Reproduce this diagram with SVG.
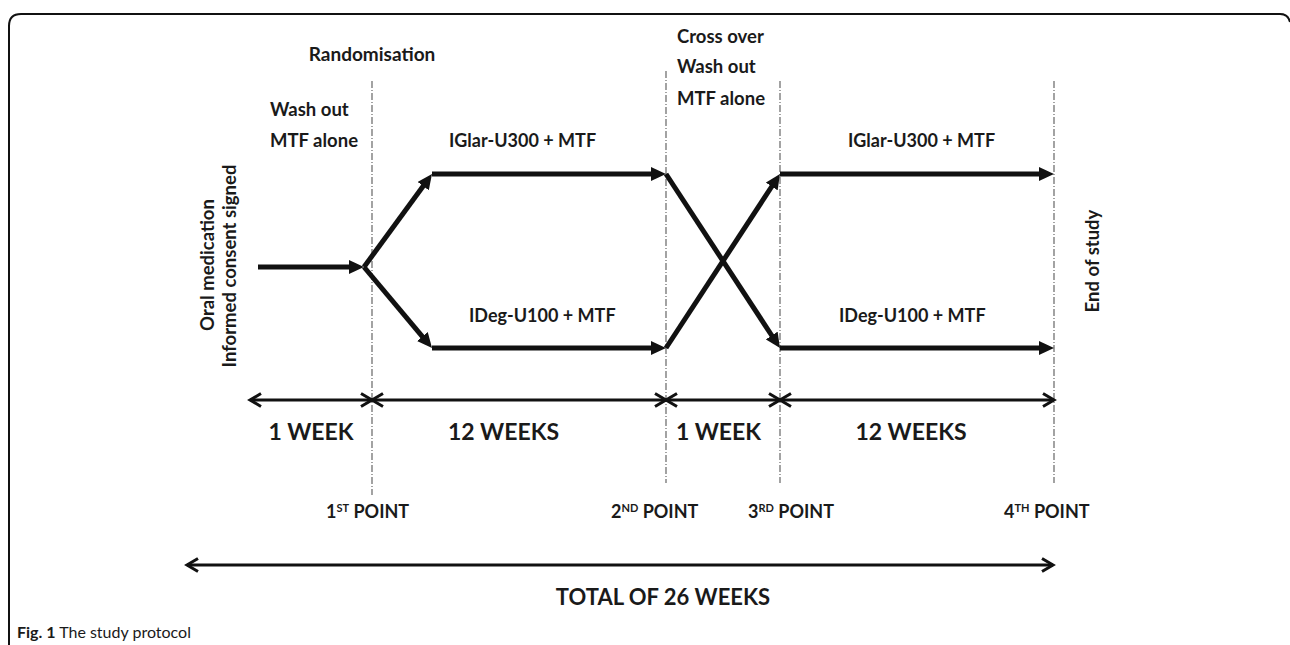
<svg xmlns="http://www.w3.org/2000/svg" width="1290" height="645" viewBox="0 0 1290 645">
<style>
.t{font-family:Lato,"Open Sans","Liberation Sans",sans-serif;font-weight:bold;fill:#1a1a1a}
.cap{font-family:Lato,"Open Sans","Liberation Sans",sans-serif;fill:#1a1a1a;font-size:16px}
.thick{stroke:#111;stroke-width:5;fill:none}
.dim{stroke:#111;stroke-width:3;fill:none}
.vl{stroke:#666;stroke-width:1.2;stroke-dasharray:7,2,1,2;fill:none}
</style>
<defs>
<marker id="ah" markerWidth="16" markerHeight="14" refX="3" refY="7" orient="auto" markerUnits="userSpaceOnUse">
<path d="M0,0 L15,7 L0,14 z" fill="#111"/>
</marker>
<marker id="ch" markerWidth="16" markerHeight="18" refX="13" refY="8" orient="auto-start-reverse" markerUnits="userSpaceOnUse">
<path d="M2,1.5 L13,8 L2,14.5" fill="none" stroke="#111" stroke-width="3"/>
</marker>
</defs>
<rect width="1290" height="645" fill="#fff"/>
<path d="M9,645 V26 Q9,14 21,14 H1280 Q1288,14 1290,22" fill="none" stroke="#111" stroke-width="2"/>

<g id="guides">
<line class="vl" x1="372" y1="81" x2="372" y2="495"/>
<line class="vl" x1="666" y1="71" x2="666" y2="483"/>
<line class="vl" x1="780" y1="81" x2="780" y2="483"/>
<line class="vl" x1="1054" y1="81" x2="1054" y2="483"/>
</g>

<g id="connectors">
<line class="thick" x1="258" y1="267" x2="352" y2="267" marker-end="url(#ah)"/>
<line class="thick" x1="364" y1="267" x2="424.9" y2="183.7" marker-end="url(#ah)"/>
<line class="thick" x1="364" y1="267" x2="424.3" y2="338.8" marker-end="url(#ah)"/>
<line class="thick" x1="432" y1="174" x2="654" y2="174" marker-end="url(#ah)"/>
<line class="thick" x1="432" y1="348" x2="654" y2="348" marker-end="url(#ah)"/>
<line class="thick" x1="666" y1="174" x2="773.4" y2="338" marker-end="url(#ah)"/>
<line class="thick" x1="666" y1="348" x2="773.4" y2="184" marker-end="url(#ah)"/>
<line class="thick" x1="780" y1="174" x2="1042" y2="174" marker-end="url(#ah)"/>
<line class="thick" x1="780" y1="348" x2="1042" y2="348" marker-end="url(#ah)"/>
<line class="dim" x1="250" y1="400" x2="372" y2="400" marker-start="url(#ch)" marker-end="url(#ch)"/>
<line class="dim" x1="372" y1="400" x2="666" y2="400" marker-start="url(#ch)" marker-end="url(#ch)"/>
<line class="dim" x1="666" y1="400" x2="780" y2="400" marker-start="url(#ch)" marker-end="url(#ch)"/>
<line class="dim" x1="780" y1="400" x2="1054" y2="400" marker-start="url(#ch)" marker-end="url(#ch)"/>
<line class="dim" x1="187" y1="565" x2="1053" y2="565" marker-start="url(#ch)" marker-end="url(#ch)"/>
</g>

<g id="start-label">
<text class="t" font-size="18.5" text-anchor="middle" transform="translate(214,265) rotate(-90)">Oral medication</text>
<text class="t" font-size="18.5" text-anchor="middle" transform="translate(236,266) rotate(-90)">Informed consent signed</text>
</g>
<g id="end-label">
<text class="t" font-size="18.5" text-anchor="middle" transform="translate(1099,261) rotate(-90)">End of study</text>
</g>
<g id="randomisation">
<text class="t" font-size="19" x="372" y="61" text-anchor="middle">Randomisation</text>
</g>
<g id="washout1">
<text class="t" font-size="18.5" x="270" y="116">Wash out</text>
<text class="t" font-size="18.5" x="270" y="147">MTF alone</text>
</g>
<g id="crossover">
<text class="t" font-size="18.5" x="677" y="43">Cross over</text>
<text class="t" font-size="18.5" x="677" y="73">Wash out</text>
<text class="t" font-size="18.5" x="677" y="105">MTF alone</text>
</g>
<g id="arm-labels">
<text class="t" font-size="18" x="449" y="147">IGlar-U300 + MTF</text>
<text class="t" font-size="18" x="848" y="147">IGlar-U300 + MTF</text>
<text class="t" font-size="18" x="469" y="322">IDeg-U100 + MTF</text>
<text class="t" font-size="18" x="839" y="322">IDeg-U100 + MTF</text>
</g>
<g id="durations">
<text class="t" font-size="23" x="311" y="440" text-anchor="middle">1 WEEK</text>
<text class="t" font-size="23" x="503.5" y="440" text-anchor="middle">12 WEEKS</text>
<text class="t" font-size="23" x="718.5" y="440" text-anchor="middle">1 WEEK</text>
<text class="t" font-size="23" x="911" y="440" text-anchor="middle">12 WEEKS</text>
</g>
<g id="points">
<text class="t" font-size="18" x="326" y="518">1<tspan font-size="11" dy="-6">ST</tspan><tspan dy="6"> POINT</tspan></text>
<text class="t" font-size="18" x="611" y="518">2<tspan font-size="11" dy="-6">ND</tspan><tspan dy="6"> POINT</tspan></text>
<text class="t" font-size="18" x="748" y="518">3<tspan font-size="11" dy="-6">RD</tspan><tspan dy="6"> POINT</tspan></text>
<text class="t" font-size="18" x="1004" y="518">4<tspan font-size="11" dy="-6">TH</tspan><tspan dy="6"> POINT</tspan></text>
</g>
<g id="total">
<text class="t" font-size="22" x="663" y="605" text-anchor="middle">TOTAL OF 26 WEEKS</text>
</g>
<g id="caption">
<text class="cap" x="17" y="638"><tspan font-weight="bold">Fig. 1</tspan> The study protocol</text>
</g>
</svg>
